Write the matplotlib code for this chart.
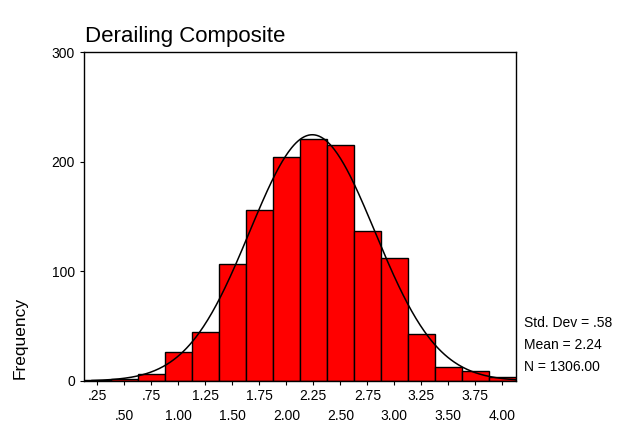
import numpy as np
import matplotlib.pyplot as plt

plt.rcParams['font.family'] = ['Liberation Sans', 'DejaVu Sans']

# bin midpoints and counts
mids = [0.25, 0.50, 0.75, 1.00, 1.25, 1.50, 1.75, 2.00,
        2.25, 2.50, 2.75, 3.00, 3.25, 3.50, 3.75, 4.00]
counts = [1, 2, 6, 26, 45, 107, 156, 204, 221, 215, 137, 112, 43, 13, 9, 4]
tick_labels = [".25", ".50", ".75", "1.00", "1.25", "1.50", "1.75", "2.00",
               "2.25", "2.50", "2.75", "3.00", "3.25", "3.50", "3.75", "4.00"]
mean, sd, n = 2.24, 0.58, 1306
width = 0.25

fig = plt.figure(figsize=(6.17, 4.30), dpi=100)
ax = fig.add_axes([0.136, 0.114, 0.700, 0.765])

ax.bar(mids, counts, width=width, color='#ff0000', edgecolor='black', linewidth=1.0)

# normal curve scaled to counts
xs = np.linspace(0.2, 4.125, 400)
ys = n * width / (sd * np.sqrt(2 * np.pi)) * np.exp(-0.5 * ((xs - mean) / sd) ** 2)
ax.plot(xs, ys, color='black', lw=1.1)

ax.set_xlim(0.125, 4.125)
ax.set_ylim(0, 300)
ax.set_yticks([0, 100, 200, 300])
ax.set_xticks(mids)
ax.set_xticklabels([t if i % 2 == 0 else "\n" + t for i, t in enumerate(tick_labels)])
for lab in ax.get_xticklabels():
    lab.set_linespacing(1.5)
ax.tick_params(axis='both', labelsize=10, length=3, width=0.8)
ax.tick_params(axis='x', pad=3)
for s in ax.spines.values():
    s.set_linewidth(1.0)

fig.text(0.138, 0.902, "Derailing Composite", fontsize=16)
fig.text(0.033, 0.214, "Frequency", rotation=90, fontsize=12.5, va='center', ha='center')

fig.text(0.849, 0.240, "Std. Dev = .58", fontsize=10)
fig.text(0.849, 0.188, "Mean = 2.24", fontsize=10)
fig.text(0.849, 0.137, "N = 1306.00", fontsize=10)

fig.savefig("out.png", dpi=100)
